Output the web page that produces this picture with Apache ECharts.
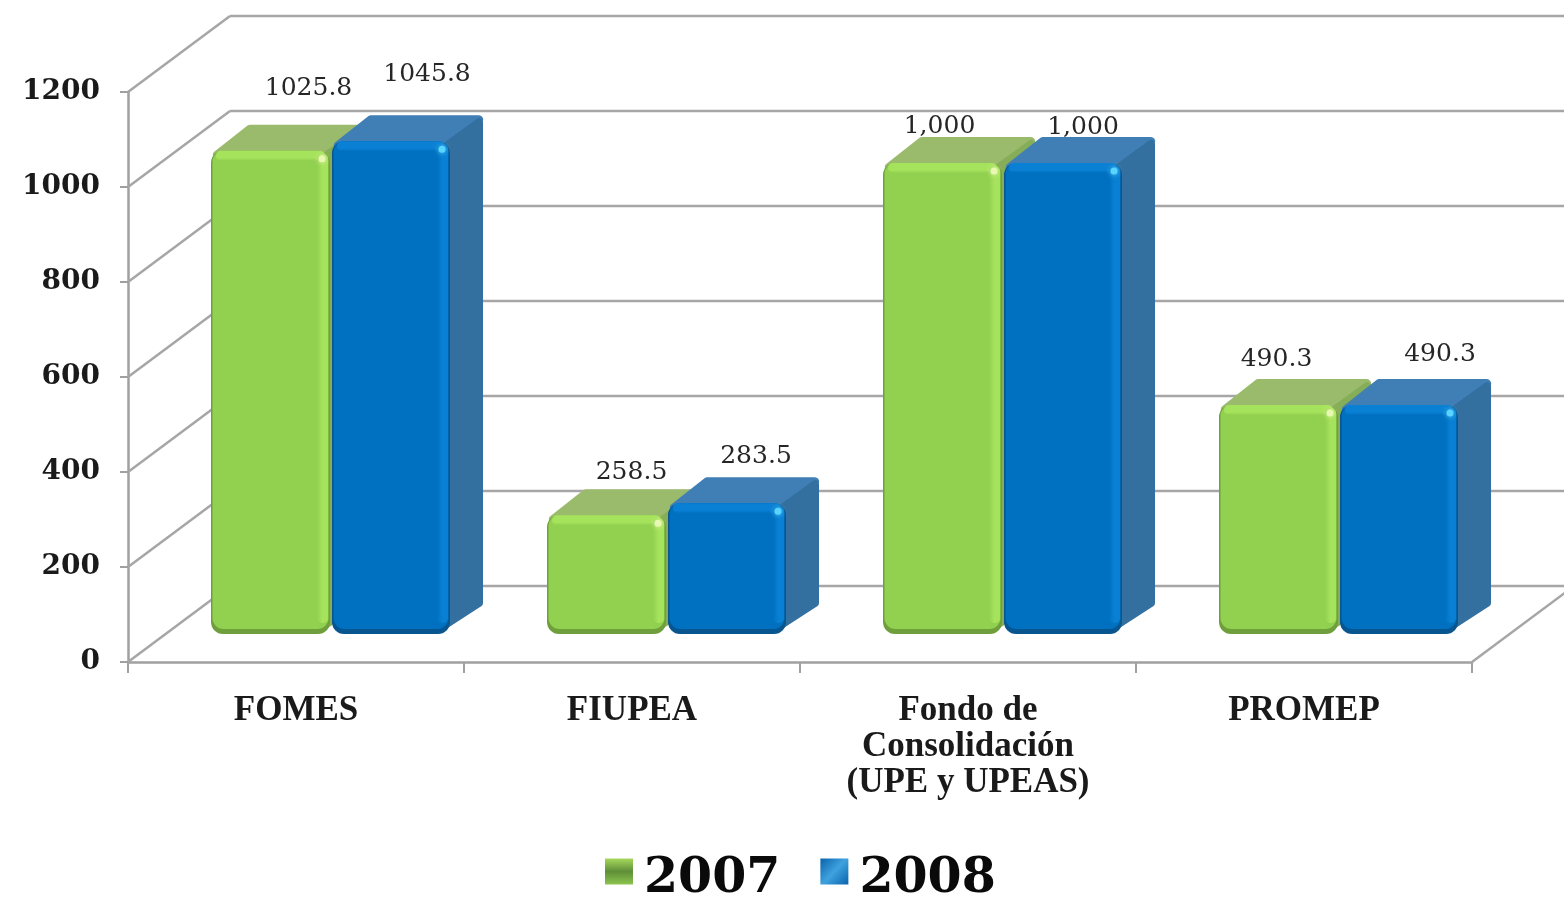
<!DOCTYPE html>
<html>
<head>
<meta charset="utf-8">
<title>FOMES 2007 2008</title>
<script src="https://cdn.jsdelivr.net/npm/echarts@6/dist/echarts.min.js"></script>
<style>
html,body{margin:0;padding:0;background:#fff;}
#chart{width:1564px;height:900px;}
</style>
</head>
<body>
<div id="chart"></div>
<script>
var categories = ['FOMES', 'FIUPEA', 'Fondo de\nConsolidación\n(UPE y UPEAS)', 'PROMEP'];
var yTicks = [0, 200, 400, 600, 800, 1000, 1200];
var values2007 = [1025.8, 258.5, 1000, 490.3];
var values2008 = [1045.8, 283.5, 1000, 490.3];
var labels2007 = ['1025.8', '258.5', '1,000', '490.3'];
var labels2008 = ['1045.8', '283.5', '1,000', '490.3'];

// hand placed label nudges, the original labels were dragged around
var nudge2007 = [[38, -62], [25, -43], [-3, -37], [-2, -46]];
var nudge2008 = [[36, -67], [29, -47], [20, -36], [41, -51]];

var WALL = [102, -76];   // depth of the floor
var DEPTH = [33, -26];   // depth of a bar
var SERIF = '"Liberation Serif", serif';
var SERIF_WIDE = '"DejaVu Serif", serif';

var green = {main: '#92d050', light: '#a6e35c', edge: '#6f9f3c', top: '#9bbb6c', side: '#86ad58', dot: '#e8f8b0'};
var blue = {main: '#0070c0', light: '#0a80d4', edge: '#07568f', top: '#3f7fb5', side: '#33709f', dot: '#58d4ff'};

function wallItem(params, api) {
	var v = api.value(1);
	var cs = params.coordSys;
	var y = api.coord([0, v])[1];
	var x0 = cs.x, x1 = cs.x + cs.width;
	var line = {stroke: '#a6a6a6', lineWidth: 2.5, fill: 'none'};
	var kids = [
		{type: 'line', shape: {x1: x0, y1: y, x2: x0 + WALL[0], y2: y + WALL[1]}, style: line},
		{type: 'line', shape: {x1: x0 + WALL[0], y1: y + WALL[1], x2: x1 + WALL[0], y2: y + WALL[1]}, style: line}
	];
	if (v === 0) {//floor's right edge
		kids.push({type: 'line', shape: {x1: x1, y1: y, x2: x1 + WALL[0], y2: y + WALL[1]}, style: line});
	}
	return {type: 'group', children: kids};
}

function barRenderer(color, offL, offR, labels, nudge) {
	return function (params, api) {
		var i = api.value(0);
		var band = api.size([1, 0])[0];
		var cx = api.coord([i, 0])[0];
		var x0 = cx + band * offL, x1 = cx + band * offR;
		var top = api.coord([i, api.value(1)])[1] - 24;
		var bot = api.coord([i, 0])[1] - 28;
		var w = x1 - x0, h = bot - top;
		var dx = DEPTH[0], dy = DEPTH[1];
		var topStrip = new echarts.graphic.LinearGradient(0, 0, 0, 1, [
			{offset: 0, color: color.light}, {offset: 0.7, color: color.light}, {offset: 1, color: color.main}
		]);
		var rightStrip = new echarts.graphic.LinearGradient(0, 0, 1, 0, [
			{offset: 0, color: color.main}, {offset: 0.5, color: color.light}, {offset: 1, color: color.light}
		]);
		return {type: 'group', children: [
			{type: 'polygon', shape: {points: [[x0 + 6, top + 4], [x1 - 4, top + 4], [x1 + dx - 4, top + dy + 4], [x0 + dx + 6, top + dy + 4]]},
				style: {fill: color.top, stroke: color.top, lineWidth: 8, lineJoin: 'round'}},
			{type: 'polygon', shape: {points: [[x1 - 8, top + 8], [x1 + dx - 4, top + dy + 7], [x1 + dx - 4, bot + dy - 5], [x1 - 8, bot - 7]]},
				style: {fill: color.side, stroke: color.side, lineWidth: 8, lineJoin: 'round'}},
			{type: 'rect', shape: {x: x0, y: top, width: w, height: h, r: 12}, style: {fill: color.edge}},
			{type: 'rect', shape: {x: x0 + 1.5, y: top, width: w - 3, height: h - 5, r: 11}, style: {fill: color.main}},
			{type: 'rect', shape: {x: x0 + 5, y: top, width: w - 10, height: 10, r: 5}, style: {fill: topStrip}},
			{type: 'rect', shape: {x: x1 - 13, y: top + 3, width: 11, height: h - 14, r: 5}, style: {fill: rightStrip}},
			{type: 'circle', shape: {cx: x1 - 8, cy: top + 8, r: 3.5}, style: {fill: color.dot, shadowBlur: 5, shadowColor: color.dot}},
			{type: 'text', style: {
				text: labels[i],
				x: (x0 + x1) / 2 + nudge[i][0],
				y: top + nudge[i][1],
				align: 'center',
				verticalAlign: 'middle',
				font: '25px ' + SERIF_WIDE,
				fill: '#262626'
			}}
		]};
	};
}

function toData(list) {
	var out = [];
	for (var i = 0; i < list.length; i++) {
		out.push([i, list[i]]);
	}
	return out;
}

var myChart = echarts.init(document.getElementById('chart'));
var option = {
	animation: false,
	backgroundColor: '#fff',
	grid: {left: 128, right: 92, top: 92, bottom: 238},
	legend: {
		left: 600,
		top: 850,
		padding: 5,
		itemGap: 40,
		itemWidth: 28,
		itemHeight: 26,
		formatter: '{y|{name}}',
		data: [
			{name: '2007', icon: 'rect', itemStyle: {color: new echarts.graphic.LinearGradient(0, 0, 0, 1, [
				{offset: 0, color: '#a6d85c'}, {offset: 0.5, color: '#5f8f38'}, {offset: 1, color: '#8cc44e'}
			])}},
			{name: '2008', icon: 'rect', itemStyle: {color: new echarts.graphic.LinearGradient(0, 0, 1, 1, [
				{offset: 0, color: '#0a62ac'}, {offset: 0.5, color: '#3fa2de'}, {offset: 1, color: '#0a62ac'}
			])}}
		],
		textStyle: {
			rich: {
				y: {
					fontFamily: SERIF_WIDE,
					fontWeight: 'bold',
					fontSize: 49,
					color: '#0a0a0a',
					padding: [16, 0, 0, 6]
				}
			}
		}
	},
	xAxis: {
		type: 'category',
		data: categories,
		boundaryGap: true,
		axisLine: {lineStyle: {color: '#a0a0a0', width: 2.5}},
		axisTick: {show: true, length: 11, lineStyle: {color: '#a0a0a0', width: 2}},
		axisLabel: {
			interval: 0,
			margin: 31,
			fontFamily: SERIF,
			fontWeight: 'bold',
			fontSize: 35,
			lineHeight: 36,
			color: '#1a1a1a'
		},
		splitLine: {show: false}
	},
	yAxis: {
		type: 'value',
		min: 0,
		max: 1200,
		interval: 200,
		axisLine: {show: true, lineStyle: {color: '#a0a0a0', width: 2.5}},
		axisTick: {show: true, length: 8, lineStyle: {color: '#a0a0a0', width: 2}},
		axisLabel: {
			margin: 28,
			fontFamily: SERIF_WIDE,
			fontWeight: 'bold',
			fontSize: 28,
			color: '#1a1a1a',
			formatter: function (v) { return String(v); }
		},
		splitLine: {show: false}
	},
	series: [
		{name: 'walls', type: 'custom', z: 1, silent: true, renderItem: wallItem, data: yTicks.map(function (t) { return [0, t]; })},
		{name: '2007', type: 'custom', z: 3, itemStyle: {color: green.main},
			renderItem: barRenderer(green, -85 / 336, 34 / 336, labels2007, nudge2007), data: toData(values2007)},
		{name: '2008', type: 'custom', z: 4, itemStyle: {color: blue.main},
			renderItem: barRenderer(blue, 36 / 336, 154 / 336, labels2008, nudge2008), data: toData(values2008)}
	]
};
myChart.setOption(option);
</script>
</body>
</html>
